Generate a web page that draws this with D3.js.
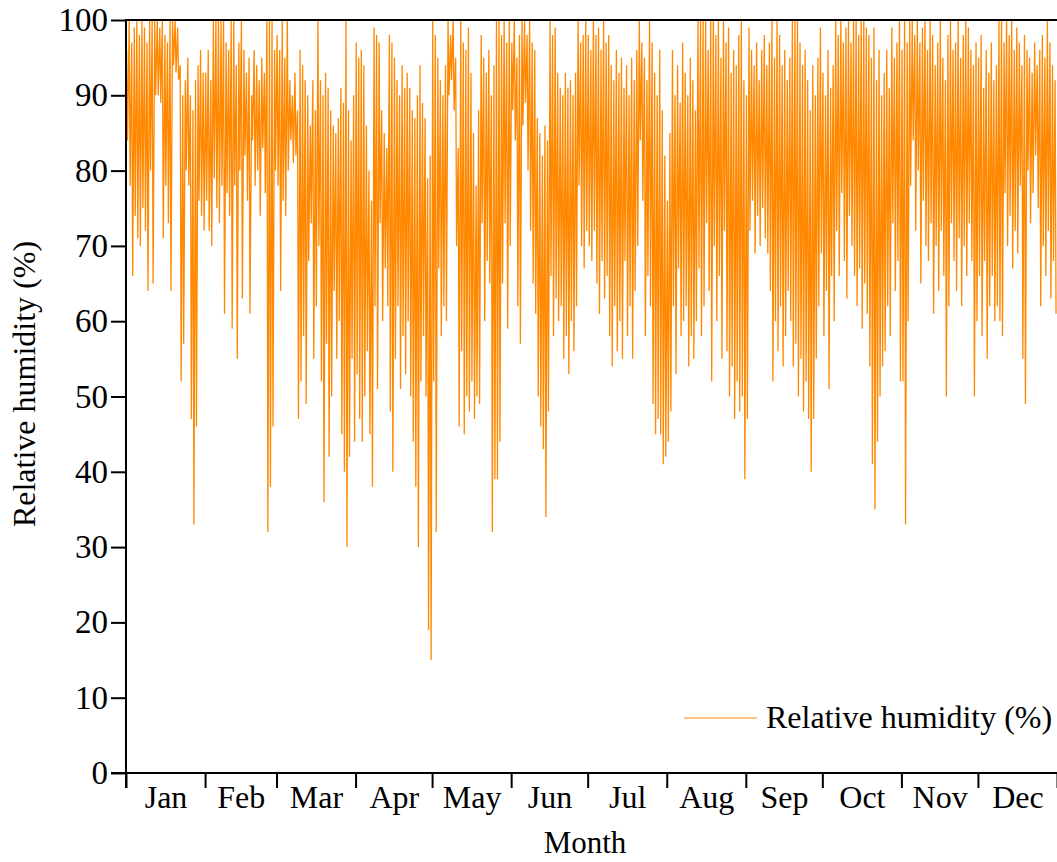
<!DOCTYPE html>
<html>
<head>
<meta charset="utf-8">
<script src="https://cdn.jsdelivr.net/npm/d3@7"></script>
<style>
  html, body { margin: 0; padding: 0; background: #fff; }
  svg { display: block; }
  text { font-family: "Liberation Serif", "Times New Roman", serif; fill: #000; }
</style>
</head>
<body>
<svg id="chart" width="1057" height="862"></svg>
<script>
// Month labels and lengths (non-leap year)
const months = ["Jan", "Feb", "Mar", "Apr", "May", "Jun", "Jul", "Aug", "Sep", "Oct", "Nov", "Dec"];
const monthDays = [31, 28, 31, 30, 31, 30, 31, 31, 30, 31, 30, 31];
const yTicks = [0, 10, 20, 30, 40, 50, 60, 70, 80, 90, 100];

// Daily maximum / minimum relative humidity (%), per month
const janHigh = [96,100,97,99,100,98,100,99,97,100,100,100,100,99,100,98,97,100,100,100,99,94,90,92,95,90,88,92,94,96,93];
const janLow  = [84,78,66,74,71,70,75,72,64,80,65,90,90,89,71,78,73,64,94,93,92,52,57,80,78,47,33,46,76,74,72];
const febHigh = [93,96,92,100,100,100,100,100,97,96,100,100,94,97,100,96,93,95,90,96,94,92,95,93,100,100,100,96];
const febLow  = [76,72,70,79,75,73,78,61,77,74,59,78,55,80,63,82,76,61,84,78,80,74,83,77,32,38,46,80];
const marHigh = [98,96,100,95,100,92,90,93,88,96,94,92,90,86,92,88,100,92,90,93,91,88,86,85,87,91,89,100,88,84,90];
const marLow  = [78,64,76,74,80,84,81,82,47,52,58,49,68,73,55,62,70,52,36,57,42,50,64,55,60,45,40,30,42,55,44];
const aprHigh = [97,95,96,94,86,80,76,99,98,97,88,85,83,98,97,95,92,90,94,91,93,91,88,87,90,94,89,87,79,82];
const aprLow  = [53,47,44,50,56,45,38,62,51,73,60,67,62,48,40,55,62,51,58,53,60,50,44,38,30,52,58,50,19,15];
const mayHigh = [100,98,95,92,90,94,100,98,100,95,83,100,97,96,99,93,85,78,88,98,95,93,96,90,94,100,100,98,100,97,100];
const mayLow  = [52,32,67,58,62,60,90,92,88,70,46,56,45,50,48,52,47,50,49,73,60,68,65,32,39,39,44,65,73,59,70];
const junHigh = [97,100,95,98,100,100,98,100,97,96,87,85,82,86,84,100,98,99,93,91,90,93,91,92,90,93,100,97,98,100];
const junLow  = [88,84,62,57,86,89,80,72,65,61,50,46,43,34,48,66,58,63,60,62,55,58,53,60,56,62,78,70,67,72];
const julHigh = [98,96,100,98,99,96,100,97,98,94,92,96,93,95,91,94,90,95,92,96,100,97,95,92,100,97,93,90,96,88,82];
const julLow  = [70,68,72,65,61,68,63,66,58,54,62,56,60,55,68,58,62,55,64,70,84,76,58,66,62,49,45,47,45,41,42];
const augHigh = [76,85,96,90,94,89,97,93,90,95,92,88,100,100,100,100,96,100,100,98,100,95,100,97,99,93,96,94,98,100,92];
const augLow  = [44,48,62,53,67,58,60,62,54,58,55,60,67,58,62,73,64,52,70,60,66,55,72,56,50,54,47,52,48,50,39];
const sepHigh = [90,99,96,94,97,92,96,98,94,97,100,95,100,98,94,96,92,95,100,100,100,97,94,96,92,88,94,90,95,99];
const sepLow  = [47,72,76,69,74,70,75,71,69,64,52,60,56,62,54,58,64,60,54,57,50,55,48,52,47,40,47,55,62,69];
const octHigh = [93,90,96,91,94,100,98,100,97,99,100,97,100,100,98,100,100,99,98,95,99,92,96,90,93,96,91,99,95,97,100];
const octLow  = [58,64,51,66,60,72,66,77,68,63,74,70,66,62,67,59,65,61,54,41,35,44,50,54,56,62,58,73,64,68,52];
const novHigh = [96,100,97,100,100,98,100,97,99,100,96,100,98,94,97,100,95,92,98,100,96,97,100,95,98,100,99,96,94,97];
const novLow  = [52,33,60,78,84,72,80,65,76,70,68,73,61,70,64,72,66,50,62,73,68,64,71,62,70,66,73,68,50,60];
const decHigh = [95,98,91,96,93,97,92,94,100,100,97,100,98,100,96,99,97,94,98,96,95,93,97,94,96,98,95,100,97,94,92];
const decLow  = [66,58,68,55,62,66,60,62,60,58,77,70,74,67,72,69,78,55,49,80,73,77,82,75,62,70,66,72,63,68,61];

const highs = [janHigh, febHigh, marHigh, aprHigh, mayHigh, junHigh, julHigh, augHigh, sepHigh, octHigh, novHigh, decHigh];
const lows  = [janLow, febLow, marLow, aprLow, mayLow, junLow, julLow, augLow, sepLow, octLow, novLow, decLow];

// Time series: each day goes through its morning maximum and afternoon minimum
const monthStart = [];
let acc = 0;
monthDays.forEach(n => { monthStart.push(acc); acc += n; });
const series = [];
months.forEach((m, mi) => {
  highs[mi].forEach((h, d) => {
    const day = monthStart[mi] + d;
    series.push({ t: day + 0.25, v: h });
    series.push({ t: day + 0.62, v: lows[mi][d] });
  });
});

const svg = d3.select("#chart");
const plotLeft = 126, plotRight = 1057, plotTop = 20, plotBottom = 773;

const x = d3.scaleLinear().domain([0, 365]).range([plotLeft, plotRight]);
const y = d3.scaleLinear().domain([0, 100]).range([plotBottom, plotTop]);

// Data line
svg.append("path")
  .datum(series)
  .attr("fill", "none")
  .attr("stroke", "#ff8800")
  .attr("stroke-width", 1.3)
  .attr("stroke-linejoin", "miter")
  .attr("d", d3.line().x(d => x(d.t)).y(d => y(d.v)));

// Y axis
const yAxis = svg.append("g")
  .attr("transform", `translate(${plotLeft},0)`)
  .call(d3.axisLeft(y).tickValues(yTicks).tickSize(15).tickSizeOuter(0).tickPadding(3));
yAxis.select(".domain").remove();
yAxis.selectAll(".tick line").attr("stroke", "#000").attr("stroke-width", 2);
yAxis.selectAll(".tick text").style("font-size", "33px").attr("fill", "#000");

// X axis: ticks at month boundaries, labels centred within each month
const xAxis = svg.append("g")
  .attr("transform", `translate(0,${plotBottom})`)
  .call(d3.axisBottom(x).tickValues(monthStart.concat([365])).tickSize(15).tickSizeOuter(0).tickFormat(""));
xAxis.select(".domain").remove();
xAxis.selectAll(".tick line").attr("stroke", "#000").attr("stroke-width", 2);

const monthMid = monthStart.map((s, i) => s + monthDays[i] / 2);
const xLabels = svg.append("g")
  .attr("transform", `translate(0,${plotBottom})`)
  .call(d3.axisBottom(x).tickValues(monthMid).tickSize(0).tickPadding(12)
    .tickFormat((d, i) => months[i]));
xLabels.select(".domain").remove();
xLabels.selectAll(".tick text").style("font-size", "32px").attr("fill", "#000");

// Frame lines
svg.append("line").attr("x1", plotLeft).attr("x2", plotLeft).attr("y1", plotTop - 1).attr("y2", plotBottom + 15)
  .attr("stroke", "#000").attr("stroke-width", 2);
svg.append("line").attr("x1", plotLeft - 15).attr("x2", plotRight).attr("y1", plotBottom).attr("y2", plotBottom)
  .attr("stroke", "#000").attr("stroke-width", 2);
svg.append("line").attr("x1", plotLeft).attr("x2", plotRight).attr("y1", plotTop).attr("y2", plotTop)
  .attr("stroke", "#000").attr("stroke-width", 2);

// Axis titles
svg.append("text")
  .attr("x", 585).attr("y", 853)
  .attr("text-anchor", "middle")
  .style("font-size", "31px")
  .text("Month");
svg.append("text")
  .attr("transform", "translate(35,384) rotate(-90)")
  .attr("text-anchor", "middle")
  .style("font-size", "32px")
  .text("Relative humidity (%)");

// Legend
svg.append("line").attr("x1", 684).attr("x2", 757).attr("y1", 718).attr("y2", 718)
  .attr("stroke", "#ff8800").attr("stroke-width", 1);
svg.append("text")
  .attr("x", 766).attr("y", 728)
  .style("font-size", "32px")
  .text("Relative humidity (%)");
</script>
</body>
</html>
